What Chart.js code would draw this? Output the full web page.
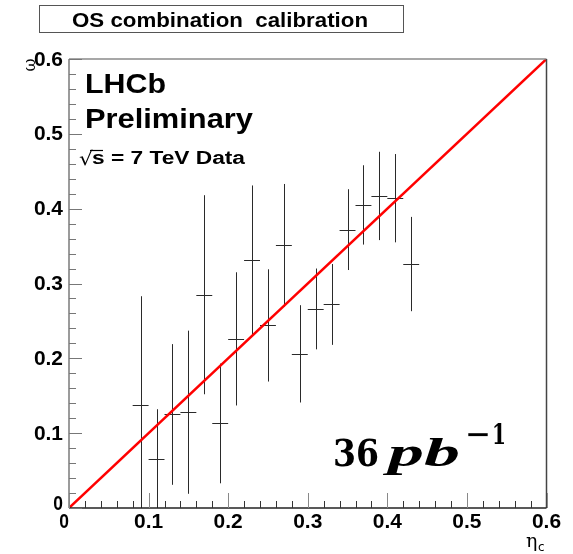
<!DOCTYPE html>
<html>
<head>
<meta charset="utf-8">
<script src="https://cdn.jsdelivr.net/npm/chart.js@4"></script>
<style>
  body { margin: 0; background: #fff; }
  #wrap { width: 573px; height: 554px; }
</style>
</head>
<body>
<div id="wrap"><canvas id="myChart" width="573" height="554"></canvas></div>
<script>
// eta_c bin centres, measured mistag omega and its error
const etaValues = [0.09, 0.11, 0.13, 0.15, 0.17, 0.19, 0.21, 0.23, 0.25, 0.27, 0.29, 0.31, 0.33, 0.35, 0.37, 0.39, 0.41, 0.43];
const omegaValues = [0.137, 0.065, 0.125, 0.128, 0.285, 0.113, 0.226, 0.331, 0.244, 0.351, 0.206, 0.266, 0.272, 0.372, 0.405, 0.417, 0.414, 0.326];
const omegaErrors = [0.146, 0.067, 0.094, 0.109, 0.133, 0.080, 0.089, 0.100, 0.075, 0.082, 0.065, 0.054, 0.054, 0.054, 0.053, 0.059, 0.059, 0.063];
const binHalfWidth = 0.01;

// perfect calibration line omega = eta_c
const lineX = [0, 0.6];
const lineY = [0, 0.6];

const xTicks = [0, 0.1, 0.2, 0.3, 0.4, 0.5, 0.6];
const xTickLabels = ['0', '0.1', '0.2', '0.3', '0.4', '0.5', '0.6'];
const yTicks = [0, 0.1, 0.2, 0.3, 0.4, 0.5, 0.6];
const yTickLabels = ['0', '0.1', '0.2', '0.3', '0.4', '0.5', '0.6'];

const ctx = document.getElementById('myChart').getContext('2d');

function fitText(c, text, x, y, font, width, align, baseline) {
    c.save();
    c.font = font;
    const w = c.measureText(text).width;
    const sx = width ? width / w : 1;
    c.textAlign = align || 'left';
    c.textBaseline = baseline || 'alphabetic';
    c.translate(x, y);
    c.scale(sx, 1);
    c.fillText(text, 0, 0);
    c.restore();
}

const errorBars = {
    id: 'errorBars',
    beforeDatasetsDraw(chart) {
        const c = chart.ctx;
        const xs = chart.scales.x;
        const ys = chart.scales.y;
        const a = chart.chartArea;
        c.save();
        c.beginPath();
        c.rect(a.left, a.top, a.right - a.left, a.bottom - a.top);
        c.clip();
        c.strokeStyle = '#2a2a2a';
        c.lineWidth = 1;
        etaValues.forEach((eta, i) => {
            const px = Math.round(xs.getPixelForValue(eta)) + 0.5;
            const py = Math.round(ys.getPixelForValue(omegaValues[i])) + 0.5;
            c.beginPath();
            c.moveTo(px, ys.getPixelForValue(omegaValues[i] - omegaErrors[i]));
            c.lineTo(px, ys.getPixelForValue(omegaValues[i] + omegaErrors[i]));
            c.moveTo(xs.getPixelForValue(eta - binHalfWidth), py);
            c.lineTo(xs.getPixelForValue(eta + binHalfWidth), py);
            c.stroke();
        });
        c.restore();
    }
};

const frameAndText = {
    id: 'frameAndText',
    afterDraw(chart) {
        const c = chart.ctx;
        const xs = chart.scales.x;
        const ys = chart.scales.y;
        const a = chart.chartArea;
        c.save();

        // frame
        c.lineWidth = 1.5;
        c.strokeStyle = '#8a8a8a';
        c.beginPath(); c.moveTo(a.left, a.top); c.lineTo(a.right, a.top); c.stroke();
        c.strokeStyle = '#7a7a7a';
        c.beginPath(); c.moveTo(a.left, a.top); c.lineTo(a.left, a.bottom); c.stroke();
        c.strokeStyle = '#444';
        c.beginPath(); c.moveTo(a.right, a.top); c.lineTo(a.right, a.bottom); c.stroke();
        c.strokeStyle = '#222';
        c.beginPath(); c.moveTo(a.left, a.bottom); c.lineTo(a.right, a.bottom); c.stroke();

        // ticks (5 divisions per major)
        c.lineWidth = 1;
        for (let k = 0; k <= 30; k++) {
            const v = k * 0.02;
            const major = k % 5 === 0;
            const py = Math.round(ys.getPixelForValue(v)) + 0.5;
            c.strokeStyle = '#777';
            c.beginPath(); c.moveTo(a.left, py); c.lineTo(a.left + (major ? 13 : 7), py); c.stroke();
            const px = Math.round(xs.getPixelForValue(v)) + 0.5;
            c.strokeStyle = major ? '#888' : '#333';
            c.beginPath(); c.moveTo(px, a.bottom); c.lineTo(px, a.bottom - (major ? 15 : 7)); c.stroke();
        }

        // tick labels
        c.fillStyle = '#000';
        const tickFont = 'bold 20px "Liberation Sans", Arial, sans-serif';
        yTicks.forEach((v, i) => {
            const py = ys.getPixelForValue(v);
            const label = yTickLabels[i];
            fitText(c, label, 63, v === 0 ? py - 4 : py + 1, tickFont, label.length * 9.7, 'right', 'middle');
        });
        xTicks.forEach((v, i) => {
            const px = xs.getPixelForValue(v);
            const label = xTickLabels[i];
            fitText(c, label, v === 0 ? px - 5 : px, 512, tickFont, label.length * 9.7, 'center', 'top');
        });

        // axis titles
        c.save();
        c.translate(31, 65);
        c.rotate(-Math.PI / 2);
        c.font = '16px "DejaVu Serif", serif';
        c.textAlign = 'center';
        c.textBaseline = 'middle';
        c.fillText('ω', 0, 0);
        c.restore();
        c.font = '19px "DejaVu Serif", serif';
        c.textAlign = 'left';
        c.textBaseline = 'alphabetic';
        c.fillText('η', 526, 547);
        c.font = '12px "DejaVu Sans", sans-serif';
        c.fillText('c', 538, 551);

        // title box
        c.strokeStyle = '#555';
        c.lineWidth = 1;
        c.strokeRect(39.5, 5.5, 364, 27);
        fitText(c, 'OS combination  calibration', 72, 27, 'bold 21px "Liberation Sans", Arial, sans-serif', 296, 'left', 'alphabetic');

        // LHCb labels
        fitText(c, 'LHCb', 85, 93, 'bold 28px "Liberation Sans", Arial, sans-serif', 81, 'left', 'alphabetic');
        fitText(c, 'Preliminary', 85, 128, 'bold 28px "Liberation Sans", Arial, sans-serif', 168, 'left', 'alphabetic');
        fitText(c, '√', 79, 165, '19px "DejaVu Sans", sans-serif', 14, 'left', 'alphabetic');
        c.strokeStyle = '#000';
        c.lineWidth = 1.2;
        c.beginPath(); c.moveTo(90, 150.5); c.lineTo(103, 150.5); c.stroke();
        fitText(c, 's = 7 TeV Data', 92, 164, 'bold 18px "Liberation Sans", Arial, sans-serif', 153, 'left', 'alphabetic');

        // luminosity
        fitText(c, '36', 333, 466, 'bold 38px "DejaVu Serif", serif', 46, 'left', 'alphabetic');
        fitText(c, 'pb', 388, 466, 'italic bold 40px "Liberation Serif", serif', 72, 'left', 'alphabetic');
        fitText(c, '−', 465, 443, 'bold 26px "DejaVu Serif", serif', 26, 'left', 'alphabetic');
        fitText(c, '1', 492, 444, 'bold 27px "DejaVu Serif", serif', 14, 'left', 'alphabetic');

        c.restore();
    }
};

const myChart = new Chart(ctx, {
    type: 'scatter',
    data: {
        datasets: [
            {
                label: 'calibration',
                data: lineX.map((x, i) => ({ x: x, y: lineY[i] })),
                showLine: true,
                borderColor: '#ff0000',
                borderWidth: 2.5,
                pointRadius: 0,
            },
            {
                label: 'omega',
                data: etaValues.map((x, i) => ({ x: x, y: omegaValues[i] })),
                pointRadius: 0,
                showLine: false,
            },
        ],
    },
    options: {
        responsive: false,
        animation: false,
        layout: { padding: { left: 69, right: 26.5, top: 59, bottom: 46 } },
        plugins: {
            legend: { display: false },
            tooltip: { enabled: false },
        },
        scales: {
            x: { type: 'linear', min: 0, max: 0.6, display: false },
            y: { type: 'linear', min: 0, max: 0.6, display: false },
        },
    },
    plugins: [errorBars, frameAndText],
});
</script>
</body>
</html>
